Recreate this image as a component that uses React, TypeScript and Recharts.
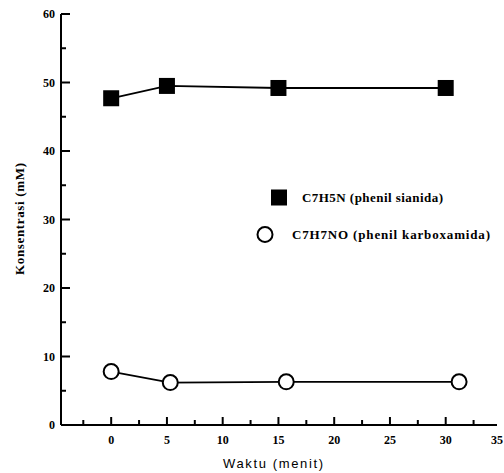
import React from 'react';
import { LineChart, Line, XAxis, YAxis, Legend } from 'recharts';

// waktu (menit) and konsentrasi (mM)
const sianidaTime = [0, 5, 15, 30];
const sianidaConc = [47.7, 49.5, 49.2, 49.2];
const karboTime = [0, 5.3, 15.7, 31.2];
const karboConc = [7.8, 6.2, 6.3, 6.3];

const xTicks = [-2.5, 0, 2.5, 5, 7.5, 10, 12.5, 15, 17.5, 20, 22.5, 25, 27.5, 30, 32.5, 35];
const xTopTicks = [0, 5, 10, 15, 20, 25, 30];
const yTicks = [0, 5, 10, 15, 20, 25, 30, 35, 40, 45, 50, 55, 60];
const yRightTicks = [0, 10, 20, 30, 40, 50, 60];

const sianidaLabel = 'C7H5N (phenil sianida)';
const karboLabel = 'C7H7NO (phenil karboxamida)';

const sianida = sianidaTime.map((x, i) => ({ x, y: sianidaConc[i] }));
const karbo = karboTime.map((x, i) => ({ x, y: karboConc[i] }));

const serif = '"Liberation Serif", "Times New Roman", serif';
const sans = '"Liberation Sans", Arial, sans-serif';
const axisLine = { stroke: '#000', strokeWidth: 2 };

function BottomTick(props: any) {
  const { x, y, payload } = props;
  const major = payload.value % 5 === 0;
  const inside = payload.value < 34.7;
  return (
    <g>
      {inside && (
        <line x1={x} x2={x} y1={y} y2={y - (major ? 8 : 5)} stroke="#000" strokeWidth={2} />
      )}
      {major && payload.value >= 0 && (
        <text
          x={inside ? x : 503}
          y={y + 19}
          textAnchor={inside ? 'middle' : 'end'}
          fontFamily={serif}
          fontWeight="bold"
          fontSize={12}
          fill="#000"
        >
          {payload.value}
        </text>
      )}
    </g>
  );
}

function TopTick(props: any) {
  const { x, y } = props;
  return <line x1={x} x2={x} y1={y} y2={y + 7} stroke="#000" strokeWidth={2} />;
}

function LeftTick(props: any) {
  const { x, y, payload } = props;
  const major = payload.value % 10 === 0;
  return (
    <g>
      <line x1={x} x2={x + (major ? 9 : 5)} y1={y} y2={y} stroke="#000" strokeWidth={2} />
      {major && (
        <text x={x - 6} y={y + 4} textAnchor="end" fontFamily={serif} fontWeight="bold" fontSize={12} fill="#000">
          {payload.value}
        </text>
      )}
    </g>
  );
}

function RightTick(props: any) {
  const { x, y } = props;
  return <line x1={x} x2={x - 7} y1={y} y2={y} stroke="#000" strokeWidth={2} />;
}

function SquareDot(props: any) {
  const { cx, cy } = props;
  return <rect key={`s-${cx}`} x={cx - 8} y={cy - 8} width={16} height={16} fill="#000" />;
}

function CircleDot(props: any) {
  const { cx, cy } = props;
  return <circle key={`c-${cx}`} cx={cx} cy={cy} r={7.5} fill="#fff" stroke="#000" strokeWidth={2} />;
}

function LegendBox() {
  return (
    <svg width={254} height={70} style={{ display: 'block' }}>
      <rect x={21} y={9.5} width={16} height={16} fill="#000" />
      <text x={52} y={22} fontFamily={serif} fontWeight="bold" fontSize={13} fill="#000" textLength={141} lengthAdjust="spacing">
        {sianidaLabel}
      </text>
      <circle cx={15} cy={54.5} r={7.5} fill="#fff" stroke="#000" strokeWidth={2} />
      <text x={42} y={59} fontFamily={serif} fontWeight="bold" fontSize={13} fill="#000" textLength={198} lengthAdjust="spacing">
        {karboLabel}
      </text>
    </svg>
  );
}

export default function App() {
  return (
    <div style={{ position: 'absolute', left: 0, top: 0, width: 504, height: 473, background: '#fff' }}>
      <LineChart width={504} height={473} margin={{ top: 14, right: 7, bottom: 0, left: 0 }}>
        <XAxis
          xAxisId="b"
          type="number"
          dataKey="x"
          domain={[-4.5, 34.6]}
          allowDataOverflow
          ticks={xTicks}
          interval={0}
          height={48}
          tickSize={0}
          tickMargin={0}
          tickLine={false}
          axisLine={axisLine}
          tick={<BottomTick />}
        />
        <XAxis
          xAxisId="t"
          orientation="top"
          type="number"
          domain={[-4.5, 34.6]}
          allowDataOverflow
          ticks={xTopTicks}
          interval={0}
          height={0}
          tickSize={0}
          tickMargin={0}
          tickLine={false}
          axisLine={axisLine}
          tick={<TopTick />}
        />
        <YAxis
          yAxisId="l"
          type="number"
          domain={[0, 60]}
          allowDataOverflow
          ticks={yTicks}
          interval={0}
          width={61}
          tickSize={0}
          tickMargin={0}
          tickLine={false}
          axisLine={axisLine}
          tick={<LeftTick />}
        />
        <YAxis
          yAxisId="r"
          orientation="right"
          type="number"
          domain={[0, 60]}
          allowDataOverflow
          ticks={yRightTicks}
          interval={0}
          width={0}
          tickSize={0}
          tickMargin={0}
          tickLine={false}
          axisLine={axisLine}
          tick={<RightTick />}
        />
        <Legend
          layout="vertical"
          align="center"
          verticalAlign="middle"
          wrapperStyle={{ left: 250, top: 180, width: 254, height: 70 }}
          content={() => <LegendBox />}
        />
        <Line
          xAxisId="b"
          yAxisId="l"
          data={sianida}
          dataKey="y"
          type="linear"
          stroke="#000"
          strokeWidth={1.8}
          dot={(p: any) => <SquareDot {...p} />}
          activeDot={false}
          isAnimationActive={false}
        />
        <Line
          xAxisId="b"
          yAxisId="l"
          data={karbo}
          dataKey="y"
          type="linear"
          stroke="#000"
          strokeWidth={1.8}
          dot={(p: any) => <CircleDot {...p} />}
          activeDot={false}
          isAnimationActive={false}
        />
        <text
          x={24}
          y={219}
          transform="rotate(-90, 24, 219)"
          textAnchor="middle"
          fontFamily={serif}
          fontWeight="bold"
          fontSize={13}
          fill="#000"
          textLength={112}
          lengthAdjust="spacing"
        >
          Konsentrasi (mM)
        </text>
        <text
          x={273}
          y={468}
          textAnchor="middle"
          fontFamily={sans}
          fontSize={13}
          fill="#000"
          textLength={100}
          lengthAdjust="spacing"
        >
          Waktu (menit)
        </text>
      </LineChart>
    </div>
  );
}
